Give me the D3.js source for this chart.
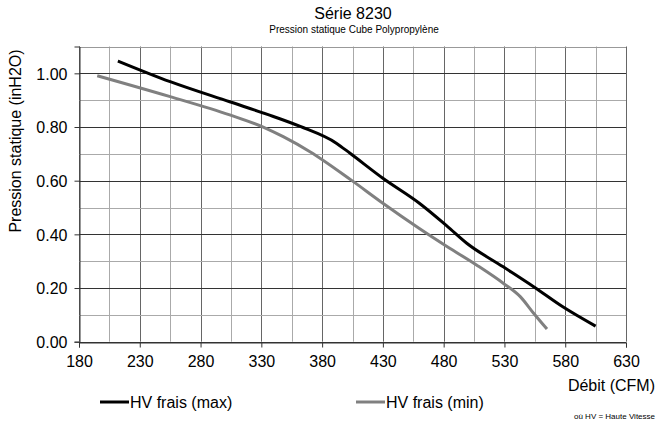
<!DOCTYPE html>
<html>
<head>
<meta charset="utf-8">
<script src="https://cdn.jsdelivr.net/npm/d3@7"></script>
<style>
  body { margin: 0; background: #fff; }
  svg { display: block; font-family: "Liberation Sans", Arial, sans-serif; }
</style>
</head>
<body>
<script>
// debit (CFM) / pression statique (inH2O)
const cfmMax = [212, 255, 304, 335, 362, 392, 403, 430, 460, 483, 499, 529, 554, 578, 605];
const pressMax = [1.046, 0.969, 0.894, 0.847, 0.802, 0.739, 0.702, 0.609, 0.516, 0.430, 0.367, 0.279, 0.205, 0.130, 0.058];

const cfmMin = [195, 255, 304, 332, 348, 370, 404, 430, 460, 483, 507, 529, 543, 554, 565];
const pressMin = [0.991, 0.913, 0.845, 0.799, 0.764, 0.708, 0.602, 0.516, 0.422, 0.354, 0.286, 0.218, 0.168, 0.106, 0.047];

const xTicks = [180, 230, 280, 330, 380, 430, 480, 530, 580, 630];
const yTicks = [0, 0.2, 0.4, 0.6, 0.8, 1.0];

const seriesNames = ["HV frais (max)", "HV frais (min)"];
const seriesColors = ["#000000", "#808080"];

const width = 658, height = 422;
const margin = {left: 79, right: 32, top: 46.5, bottom: 80};

const svg = d3.select("body").append("svg")
    .attr("width", width)
    .attr("height", height);

const x = d3.scaleLinear().domain([180, 630]).range([margin.left, width - margin.right]);
const y = d3.scaleLinear().domain([0, 1.1]).range([height - margin.bottom + 0.5 - 0.8, margin.top]);

// grid
const grid = svg.append("g");
d3.range(180, 631, 25).forEach(function(v) {
  const major = (v - 180) % 50 === 0;
  grid.append("line")
      .attr("x1", Math.round(x(v)) + 0.5).attr("x2", Math.round(x(v)) + 0.5)
      .attr("y1", y(0)).attr("y2", y(1.1))
      .attr("stroke", major ? "#666" : "#aaa");
});
d3.range(0, 11).forEach(function(i) {
  const v = i / 10;
  const major = i % 2 === 0;
  grid.append("line")
      .attr("x1", x(180)).attr("x2", x(630))
      .attr("y1", Math.round(y(v)) + 0.5).attr("y2", Math.round(y(v)) + 0.5)
      .attr("stroke", major ? "#333" : "#aaa");
});
// top border
grid.append("line")
    .attr("x1", x(180)).attr("x2", x(630))
    .attr("y1", Math.round(y(1.1)) + 0.5).attr("y2", Math.round(y(1.1)) + 0.5)
    .attr("stroke", "#999");

// axes
const xAxis = svg.append("g")
    .attr("transform", "translate(0," + (Math.round(y(0)) + 0.5) + ")")
    .call(d3.axisBottom(x).tickValues(xTicks).tickSize(5).tickPadding(8).tickFormat(d3.format("d")));
const yAxis = svg.append("g")
    .attr("transform", "translate(" + (Math.round(x(180)) + 0.5) + ",0)")
    .call(d3.axisLeft(y).tickValues(yTicks).tickSize(5).tickPadding(7).tickFormat(d3.format(".2f")));

[xAxis, yAxis].forEach(function(a) {
  a.select(".domain").attr("stroke", "#333");
  a.selectAll(".tick line").attr("stroke", "#333");
  a.selectAll(".tick text")
      .attr("fill", "#000")
      .style("font-size", "16px")
      .style("font-family", "'Liberation Sans', Arial, sans-serif");
});
yAxis.selectAll(".tick text").attr("dy", "0.36em");

// curves
const line = d3.line()
    .x(function(d) { return x(d[0]); })
    .y(function(d) { return y(d[1]); })
    .curve(d3.curveMonotoneX);

const series = [
  d3.zip(cfmMax, pressMax),
  d3.zip(cfmMin, pressMin)
];

series.forEach(function(pts, i) {
  svg.append("path")
      .datum(pts)
      .attr("d", line)
      .attr("fill", "none")
      .attr("stroke", seriesColors[i])
      .attr("stroke-width", 3)
      .attr("stroke-linejoin", "round");
});

// titles
svg.append("text")
    .attr("x", 353).attr("y", 19)
    .attr("text-anchor", "middle")
    .style("font-size", "16px")
    .text("Série 8230");
svg.append("text")
    .attr("x", 354).attr("y", 33)
    .attr("text-anchor", "middle")
    .style("font-size", "10px")
    .text("Pression statique Cube Polypropylène");

svg.append("text")
    .attr("transform", "translate(21,141) rotate(-90)")
    .attr("text-anchor", "middle")
    .style("font-size", "16px")
    .text("Pression statique (inH2O)");

svg.append("text")
    .attr("x", 655).attr("y", 391)
    .attr("text-anchor", "end")
    .style("font-size", "16px")
    .text("Débit (CFM)");

// legend
const legendX = [100, 356];
seriesNames.forEach(function(name, i) {
  const g = svg.append("g").attr("transform", "translate(" + legendX[i] + ",402)");
  g.append("line")
      .attr("x1", 0).attr("x2", 29)
      .attr("stroke", seriesColors[i])
      .attr("stroke-width", 3);
  g.append("text")
      .attr("x", 30).attr("y", 6)
      .style("font-size", "16px")
      .text(name);
});

svg.append("text")
    .attr("x", 655).attr("y", 419)
    .attr("text-anchor", "end")
    .style("font-size", "8px")
    .text("où HV = Haute Vitesse");
</script>
</body>
</html>
